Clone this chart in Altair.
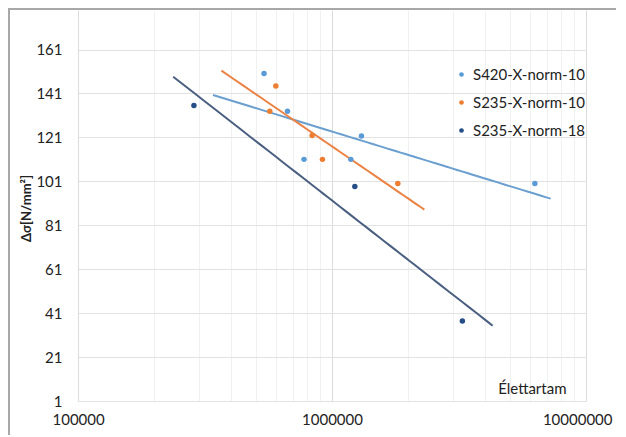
import altair as alt
import pandas as pd

# ---- data ----
s420_n = [540000, 668000, 776000, 1186000, 1306000, 6290000]
s420_s = [150.1, 132.9, 111.0, 111.0, 121.6, 100.0]
s235_10_n = [569000, 601000, 835000, 917000, 1816000]
s235_10_s = [132.9, 144.4, 121.9, 111.0, 100.0]
s235_18_n = [286000, 1230000, 3260000]
s235_18_s = [135.5, 98.6, 37.4]

series_names = ["S420-X-norm-10", "S235-X-norm-10", "S235-X-norm-18"]
series_colors = ["#5B9BD5", "#ED7D31", "#264E86"]
line_colors = ["#6A9FCF", "#EB8244", "#4A5F80"]
# trendline extents (Excel forecast range)
trend_extents = [[340000, 7260000], [367000, 2310000], [237000, 4290000]]

y_ticks = [1, 21, 41, 61, 81, 101, 121, 141, 161]
x_grid = [m * 10 ** e for e in (5, 6) for m in range(1, 10)] + [10 ** 7]

rows = []
for name, ns, ss in zip(series_names, [s420_n, s235_10_n, s235_18_n],
                        [s420_s, s235_10_s, s235_18_s]):
    for n, s in zip(ns, ss):
        rows.append({"series": name, "N": n, "S": s})
df = pd.DataFrame(rows)

FONT = "Lato"
TXT = "#222222"
is_pow10 = "abs(round(log(datum.value)/LN10) - log(datum.value)/LN10) < 0.001"

x_scale = alt.Scale(type="log", domain=[1e5, 1e7], nice=False)
y_scale = alt.Scale(domain=[1, 179], nice=False, zero=False)

x_axis = alt.Axis(
    values=x_grid,
    labelExpr=f"({is_pow10}) ? format(datum.value, 'd') : ''",
    grid=True,
    gridColor={"condition": {"test": is_pow10, "value": "#DCDCDC"}, "value": "#F1F1F1"},
    gridWidth=1,
    ticks=False,
    domain=False,
    labelFont=FONT,
    labelFontSize=15,
    labelColor=TXT,
    labelPadding=18,
    labelBaseline="middle",
    labelFlush=True,
    labelFlushOffset=26,
    labelOverlap=False,
    title="Élettartam",
    titleFont=FONT,
    titleFontSize=15,
    titleFontWeight="normal",
    titleColor=TXT,
    titleAlign="right",
    titleBaseline="middle",
    titleX=488,
    titleY=-13,
)

y_axis = alt.Axis(
    values=y_ticks,
    grid=True,
    gridColor="#E2E2E2",
    ticks=False,
    domain=False,
    labelFont=FONT,
    labelFontSize=15,
    labelColor=TXT,
    labelPadding=16,
    title="Δσ[N/mm²]",
    titleFont=FONT,
    titleFontSize=13,
    titleFontWeight="bold",
    titleColor=TXT,
    titleAngle=270,
    titleAlign="center",
    titleBaseline="middle",
    titleX=-52,
    titleY=198,
)

color_scale = alt.Scale(domain=series_names, range=series_colors)

base = alt.Chart(df)

points = base.mark_circle(size=30, opacity=1).encode(
    x=alt.X("N:Q", scale=x_scale, axis=x_axis),
    y=alt.Y("S:Q", scale=y_scale, axis=y_axis),
    color=alt.Color(
        "series:N",
        scale=color_scale,
        sort=series_names,
        legend=alt.Legend(
            title=None,
            orient="none",
            legendX=376,
            legendY=57,
            symbolType="circle",
            symbolSize=22,
            labelFont=FONT,
            labelFontSize=15,
            labelColor=TXT,
            labelOffset=4,
            rowPadding=12,
            padding=0,
        ),
    ),
)

lines = []
for name, col, ext in zip(series_names, line_colors, trend_extents):
    lines.append(
        base.transform_filter(alt.datum.series == name)
        .transform_regression("N", "S", method="log", extent=ext)
        .mark_line(color=col, strokeWidth=2, clip=True)
        .encode(x=alt.X("N:Q", scale=x_scale), y=alt.Y("S:Q", scale=y_scale))
    )

frame_top = alt.Chart(pd.DataFrame({"a": [0]})).mark_rule(color="#A8A8A8", strokeWidth=2).encode(
    x=alt.value(-70), x2=alt.value(540), y=alt.value(-1)
)
frame_left = alt.Chart(pd.DataFrame({"a": [0]})).mark_rule(color="#A8A8A8", strokeWidth=2).encode(
    x=alt.value(-69), y=alt.value(-2), y2=alt.value(430)
)

chart = alt.layer(*lines, points, frame_top, frame_left).properties(
    width=508,
    height=391,
    autosize=alt.AutoSizeParams(type="none"),
    padding={"left": 70, "top": 2, "right": 30, "bottom": 34},
    background="white",
).configure_view(stroke=None)

chart.save("out.html", embed_options={"renderer": "svg", "actions": False})
